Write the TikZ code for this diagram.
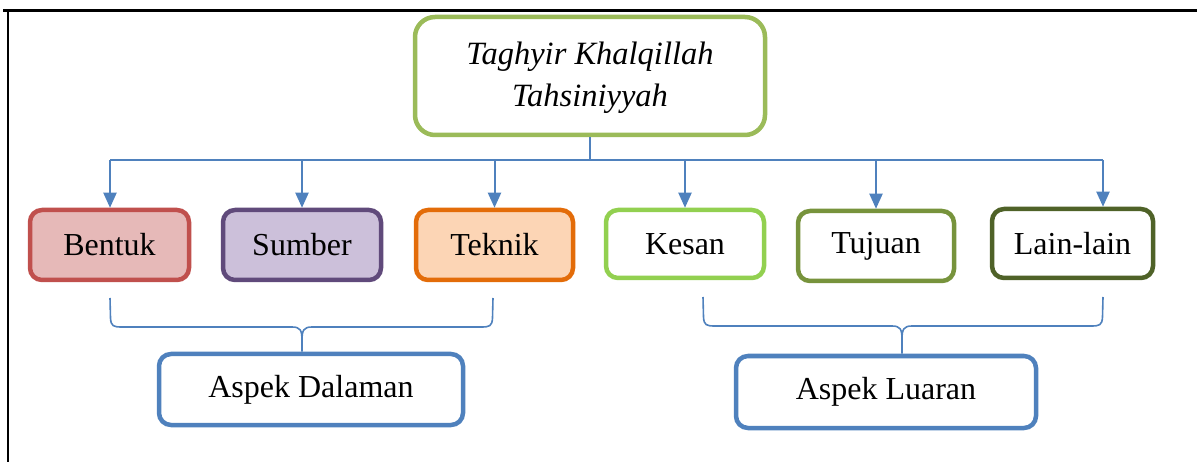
\documentclass[tikz,border=0pt]{standalone}
\usepackage{fontspec}
\setmainfont{LiberationSerif}[Extension=.ttf, UprightFont=*-Regular, ItalicFont=*-Italic, BoldFont=*-Bold]
\usetikzlibrary{arrows.meta,calc}
\definecolor{conn}{HTML}{4F81BD}
\definecolor{topg}{HTML}{9BBB59}
\definecolor{bentF}{HTML}{E6B9B8}\definecolor{bentD}{HTML}{C0504D}
\definecolor{sumF}{HTML}{CCC0DA}\definecolor{sumD}{HTML}{604A7B}
\definecolor{tekF}{HTML}{FCD5B5}\definecolor{tekD}{HTML}{E36C09}
\definecolor{kesD}{HTML}{92D050}
\definecolor{tujD}{HTML}{77933C}
\definecolor{lainD}{HTML}{4F6228}
\tikzset{
  box/.style={draw, line width=4.5pt, rounded corners=12pt, inner sep=0pt, align=center,
    font=\fontsize{32}{38}\selectfont, fill=white},
  link/.style={draw=conn, line width=2pt},
  arr/.style={link, -{Triangle[width=13pt,length=15pt]}},
  brace/.style={draw=conn, line width=1.6pt},
}
\begin{document}
\begin{tikzpicture}[x=1pt,y=-1pt]
\useasboundingbox (0,0) rectangle (1197,462);
% frame
\draw[line width=3pt] (3,11) -- (1197,11);
\draw[line width=2.5pt] (8,11) -- (8,462);
% top node
\node[box, draw=topg, rounded corners=20pt, minimum width=350pt, minimum height=118pt] (top) at (590,76) {};
\node[font=\fontsize{32.5}{42}\selectfont\itshape, align=center, inner sep=0pt] (toptext) at (590,78) {Taghyir Khalqillah\\Tahsiniyyah};
% children
\node[box, draw=bentD, fill=bentF, minimum width=159pt, minimum height=70pt] (bentuk) at (109.5,245) {Bentuk};
\node[box, draw=sumD, fill=sumF, minimum width=158pt, minimum height=70pt] (sumber) at (302,245) {Sumber};
\node[box, draw=tekD, fill=tekF, minimum width=157pt, minimum height=70pt] (teknik) at (494.5,245) {Teknik};
\node[box, draw=kesD, minimum width=158pt, minimum height=68pt] (kesan) at (685,244) {Kesan};
\node[box, draw=tujD, minimum width=156pt, minimum height=70pt] (tujuan) at (876,246) {Tujuan};
\node[box, draw=lainD, minimum width=161pt, minimum height=69pt] (lain) at (1072.5,243.5) {Lain-lain};
% aspects
\node[box, draw=conn, minimum width=304pt, minimum height=71pt] (dalam) at (311,389.5) {Aspek Dalaman};
\node[box, draw=conn, minimum width=300pt, minimum height=72pt] (luar) at (886,392) {Aspek Luaran};
% connectors
\coordinate (hub) at (590,160);
\coordinate (hL) at (110,160);
\coordinate (hR) at (1103,160);
\draw[link] (top.south) -- (hub);
\draw[link] (hL) -- (hR);
\draw[arr] (hL) -- (hL |- bentuk.north);
\draw[arr] (sumber.north |- hub) -- (sumber.north);
\draw[arr] (teknik.north |- hub) -- (teknik.north);
\draw[arr] (kesan.north |- hub) -- (kesan.north);
\draw[arr] (tujuan.north |- hub) -- (tujuan.north);
\draw[arr] (hR) -- (hR |- lain.north);
% braces
\coordinate (b1L) at (110,298);
\coordinate (b1R) at (493,298);
\coordinate (b1T) at (302,340);
\draw[brace] (b1L) -- (110.5,318) .. controls (111,326) and (113,327) .. (122,327)
  -- (292,327) .. controls (300,327) and (302,330) .. (b1T) -- (b1T |- dalam.north);
\draw[brace] (b1R) -- (492.5,318) .. controls (492,326) and (490,327) .. (481,327)
  -- (312,327) .. controls (304,327) and (302,330) .. (b1T);
\coordinate (b2L) at (703,297);
\coordinate (b2R) at (1103,297);
\coordinate (b2T) at (902,339);
\draw[brace] (b2L) -- (703.5,317) .. controls (704,325) and (706,326) .. (715,326)
  -- (892,326) .. controls (900,326) and (902,329) .. (b2T) -- (b2T |- luar.north);
\draw[brace] (b2R) -- (1102.5,317) .. controls (1102,325) and (1100,326) .. (1091,326)
  -- (912,326) .. controls (904,326) and (902,329) .. (b2T);
\end{tikzpicture}
\end{document}
